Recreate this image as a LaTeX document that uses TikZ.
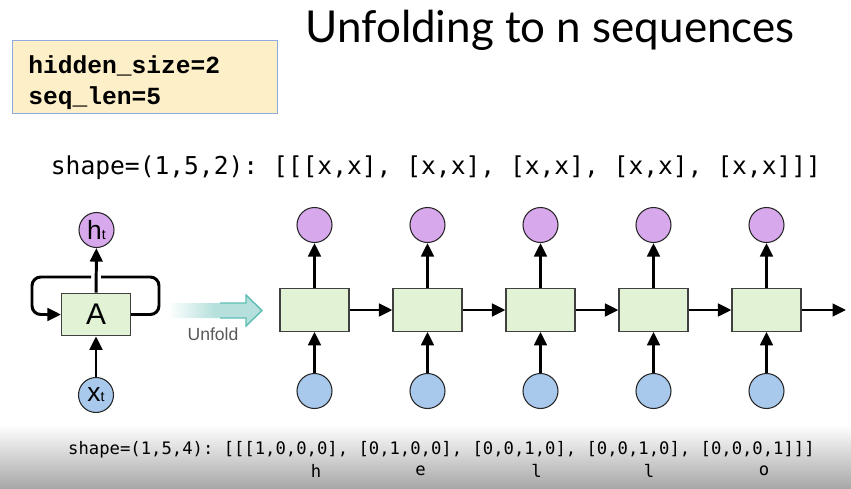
\documentclass[tikz,border=0pt]{standalone}
\usepackage{fontspec}
\setmainfont{Liberation Sans}
\setmonofont{DejaVu Sans Mono}
\newfontfamily\titlefont{Lato}
\newfontfamily\codefont{Liberation Mono}
\usetikzlibrary{arrows.meta}
\definecolor{hcol}{RGB}{216,168,236}
\definecolor{xcol}{RGB}{168,200,236}
\definecolor{cellcol}{RGB}{226,242,212}
\definecolor{notefill}{RGB}{253,240,200}
\definecolor{noteline}{RGB}{143,170,220}
\definecolor{unfoldfill}{RGB}{181,224,220}
\definecolor{unfoldline}{RGB}{93,189,179}
\begin{document}
\begin{tikzpicture}[
    cell/.style ={draw=black!75, fill=cellcol, line width=0.6pt, minimum width=1.38cm, minimum height=0.85cm, font=\fontsize{17}{17}\selectfont},
    hnode/.style={circle, draw=black!85, fill=hcol, line width=0.6pt, minimum size=0.7cm, inner sep=0pt, font=\fontsize{15}{15}\selectfont},
    xnode/.style={circle, draw=black!85, fill=xcol, line width=0.6pt, minimum size=0.7cm, inner sep=0pt, font=\fontsize{15}{15}\selectfont},
    flow/.style ={line width=1.7pt, -{Triangle[length=0.27cm,width=0.25cm]}},
    code/.style ={font=\ttfamily\fontsize{14}{14}\selectfont, inner sep=0pt},
  ]
  \useasboundingbox (0,0) rectangle (17.02,-9.78);

  % grey band at the bottom
  \shade[top color=white, bottom color=black!35] (0,-8.5) rectangle (17.02,-9.78);

  % title and note box
  \node[font=\titlefont\fontsize{25}{25}\selectfont] (title) at (11.0,-0.6) {Unfolding to n sequences};
  \node[draw=noteline, fill=notefill, line width=0.6pt, anchor=north west, minimum width=5.3cm, minimum height=1.46cm] (note) at (0.24,-0.8) {};
  \node[anchor=west, align=left, font=\codefont\bfseries\fontsize{14}{17.6}\selectfont, inner sep=0pt] (params) at ([xshift=0.32cm,yshift=-0.12cm]note.west)
    {hidden\_size=2\\seq\_len=5};

  \node[code] (shapein) at (8.72,-3.36) {shape=(1,5,2): [[[x,x], [x,x], [x,x], [x,x], [x,x]]]};

  % folded RNN
  \node[cell] (A) at (1.92,-6.29) {A};
  \node[hnode] (ht) at (1.93,-4.6) {h{\fontsize{8}{8}\selectfont t}};
  \node[xnode] (xt) at (1.92,-7.9) {x{\fontsize{8}{8}\selectfont t}};
  \draw[flow] (A) -- (ht);
  \draw[flow] (xt) -- (A);
  \draw[line width=1.7pt, rounded corners=5pt] (A.east) -- (3.18,-6.29) -- (3.18,-5.54) -- (2.02,-5.54);
  \draw[flow, rounded corners=5pt] (1.82,-5.54) -- (0.64,-5.54) -- (0.64,-6.29) -- (A.west);

  % unfold arrow (outline only on the right part)
  \shade[left color=white, right color=unfoldfill, middle color=unfoldfill]
    (3.36,-6.06) -- (4.92,-6.06) -- (4.92,-5.9) -- (5.24,-6.21) -- (4.92,-6.52) -- (4.92,-6.36) -- (3.36,-6.36) -- cycle;
  \draw[unfoldline, line width=0.8pt, line join=miter]
    (4.4,-6.06) -- (4.92,-6.06) -- (4.92,-5.9) -- (5.24,-6.21) -- (4.92,-6.52) -- (4.92,-6.36) -- (4.4,-6.36);
  \node[text=black!65, font=\fontsize{10}{10}\selectfont] (unflbl) at (4.26,-6.68) {Unfold};

  % unrolled RNN
  \foreach \i in {1,...,5}{
    \node[cell] (c\i) at ({6.29+2.26*(\i-1)},-6.2) {};
    \node[hnode] (h\i) at ({6.29+2.26*(\i-1)},-4.5) {};
    \node[xnode] (x\i) at ({6.29+2.26*(\i-1)},-7.82) {};
    \draw[flow] (c\i) -- (h\i);
    \draw[flow] (x\i) -- (c\i);
  }
  \foreach \i [evaluate=\i as \j using int(\i+1)] in {1,...,4}{ \draw[flow] (c\i) -- (c\j); }
  \coordinate (out) at (16.92,-6.2);
  \draw[flow] (c5) -- (out);

  % one-hot input
  \node[code, font=\ttfamily\fontsize{9.8}{9.8}\selectfont] (shapeout) at (8.83,-9.0) {shape=(1,5,4): [[[1,0,0,0], [0,1,0,0], [0,0,1,0], [0,0,1,0], [0,0,0,1]]]};
  \foreach \ch/\xx [count=\k] in {h/6.32,e/8.41,l/10.73,l/12.98,o/15.28}{
    \node[code, font=\ttfamily\fontsize{9.8}{9.8}\selectfont] (ch\k) at (\xx,-9.42) {\ch};
  }
\end{tikzpicture}
\end{document}
